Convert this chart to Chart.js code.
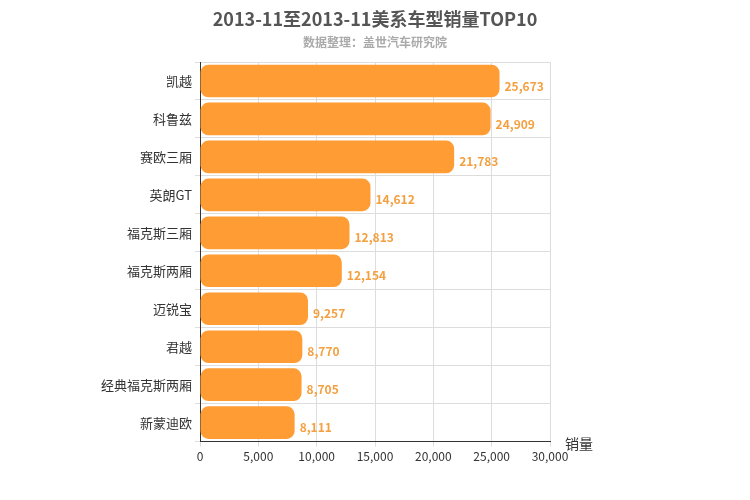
<!DOCTYPE html>
<html>
<head>
<meta charset="utf-8">
<script src="https://cdn.jsdelivr.net/npm/chart.js@4"></script>
<style>
  body { margin: 0; background: #fff; }
  #wrap { width: 750px; height: 500px; }
</style>
</head>
<body>
<div id="wrap"><canvas id="salesChart"></canvas></div>
<script>
var models = ['凯越', '科鲁兹', '赛欧三厢', '英朗GT', '福克斯三厢', '福克斯两厢', '迈锐宝', '君越', '经典福克斯两厢', '新蒙迪欧'];
var sales = [25673, 24909, 21783, 14612, 12813, 12154, 9257, 8770, 8705, 8111];
var xTicks = [0, 5000, 10000, 15000, 20000, 25000, 30000];

var FONT = '"Microsoft YaHei", "Noto Sans CJK SC", sans-serif';

// titles, value labels next to each bar, and the axis name
var extras = {
   id: 'extras',
   afterDatasetsDraw: function(chart) {
      var ctx = chart.ctx;
      var meta = chart.getDatasetMeta(0);
      ctx.save();
      ctx.textAlign = 'center';
      ctx.textBaseline = 'middle';
      ctx.fillStyle = '#555';
      ctx.font = 'bold 18px ' + FONT;
      ctx.fillText('2013-11至2013-11美系车型销量TOP10', 375, 19);
      ctx.fillStyle = '#aaa';
      ctx.font = 'bold 12px ' + FONT;
      ctx.fillText('数据整理：盖世汽车研究院', 375, 42);

      ctx.textAlign = 'left';
      ctx.font = 'bold 12px ' + FONT;
      ctx.fillStyle = '#f4a040';
      meta.data.forEach(function(bar, i) {
         ctx.fillText(sales[i].toLocaleString('en-US'), bar.x + 5, bar.y + 5);
      });
      var x = chart.scales.x;
      ctx.fillStyle = '#333';
      ctx.font = '14px ' + FONT;
      ctx.fillText('销量', x.right + 15, x.top + 2);
      ctx.restore();
   }
};

new Chart(document.getElementById('salesChart'), {
   type: 'bar',
   data: {
      labels: models,
      datasets: [{
         data: sales,
         backgroundColor: '#ff9c33',
         borderRadius: 8,
         borderSkipped: false,
         barPercentage: 0.86,
         categoryPercentage: 1
      }]
   },
   options: {
      indexAxis: 'y',
      responsive: true,
      maintainAspectRatio: false,
      animation: false,
      layout: { padding: { left: 0, right: 200, top: 62, bottom: 33 } },
      scales: {
         x: {
            min: 0,
            max: 30000,
            afterBuildTicks: function(axis) { axis.ticks = xTicks.map(function(v) { return {value: v}; }); },
            ticks: { color: '#333', font: { size: 12, family: FONT }, callback: function(v) { return v.toLocaleString('en-US'); } },
            grid: { color: '#ddd', drawTicks: true, tickLength: 5 },
            border: { color: '#333' }
         },
         y: {
            afterFit: function(axis) { axis.width = 200; },
            ticks: { color: '#333', font: { size: 13, family: FONT } },
            grid: { color: '#ddd', offset: true, tickLength: 5 },
            border: { color: '#333' }
         }
      },
      plugins: {
         legend: { display: false },
         tooltip: { enabled: false }
      }
   },
   plugins: [extras]
});
</script>
</body>
</html>
